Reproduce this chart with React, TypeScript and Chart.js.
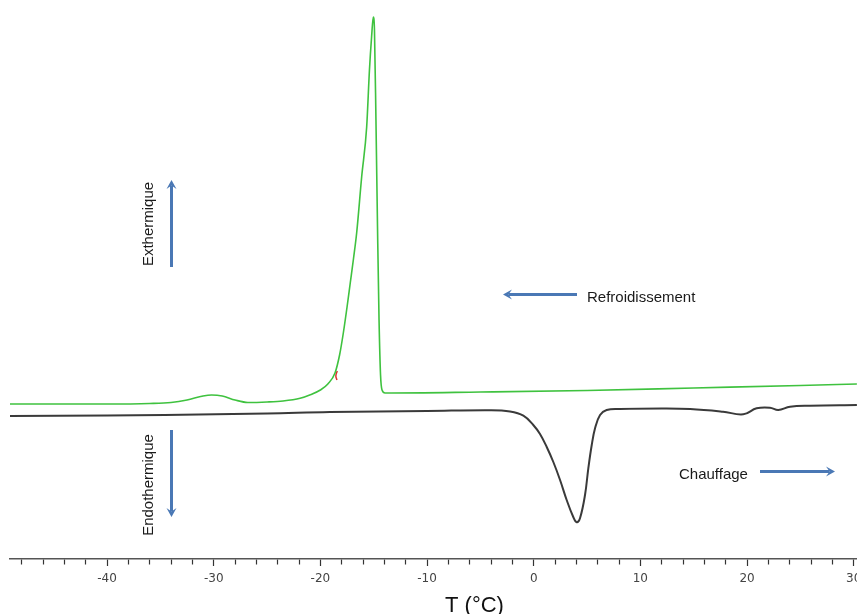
import React, { useEffect, useRef } from 'react';
import { Chart, registerables } from 'chart.js';

Chart.register(...registerables);

// ---- Data (T in °C, signal in arbitrary units, exo up) ----
const coolingT = [-49.1, -40, -36, -34, -32.5, -31, -30.2, -29.2, -28, -26.8, -25, -23.5, -21.9, -21, -20, -19.3, -18.63, -18.2, -17.85, -17.5, -17.2, -16.9, -16.6, -16.13, -15.66, -15.4, -15.2, -15.04, -14.93, -14.79, -14.64, -14.5, -14.36, -14.22, -13.94, -5, 5, 15, 25, 30.3];
const coolingY = [155, 155, 155.5, 156.5, 159, 163, 164, 163, 159, 156.5, 157, 158, 160.7, 164, 169, 175, 186, 204, 226, 252, 276, 300, 326, 382, 432, 489, 522, 542, 529, 439, 329, 239, 184, 169, 166, 167, 168.5, 171, 173.5, 175];

const heatingT = [-49.1, -40, -34.6, -25, -19.1, -10, -4.09, -2.22, -0.97, -0.04, 0.59, 1.22, 1.84, 2.47, 3.09, 3.71, 4.03, 4.34, 4.81, 5.12, 5.44, 5.75, 6.22, 6.84, 8.09, 12, 14.67, 17.75, 19.65, 20.9, 22.15, 22.93, 24.03, 25.9, 30.3];
const heatingY = [143, 143.5, 144, 145.5, 147, 148, 148.8, 147.5, 143.3, 134, 125, 112, 97, 79, 59, 42, 36.7, 40.7, 64, 90.7, 114, 130.7, 144, 149, 150, 150.5, 150, 147.3, 144.7, 150.7, 151.3, 149, 152.3, 153.3, 154];

const markT = [-18.42, -18.55, -18.45];
const markY = [188, 183, 179];

const xMin = -49.1;
const xMax = 30.31;
const yMin = 0;
const yMax = 559;
const minorStep = 2;
const majorStep = 10;

const xTitle = 'T (°C)';
const exoLabel = 'Exthermique';
const endoLabel = 'Endothermique';
const coolLabel = 'Refroidissement';
const heatLabel = 'Chauffage';

const GREEN = '#3fc23f';
const DARK = '#3a3a3a';
const ARROW = '#4a78b5';

function pts(xs: number[], ys: number[]) {
  return xs.map((x, i) => ({ x, y: ys[i] }));
}

function drawArrow(ctx: CanvasRenderingContext2D, x1: number, y1: number, x2: number, y2: number) {
  const ang = Math.atan2(y2 - y1, x2 - x1);
  const c = Math.cos(ang);
  const s = Math.sin(ang);
  const head = 9;
  const hw = 5;
  ctx.strokeStyle = ARROW;
  ctx.lineWidth = 3;
  ctx.beginPath();
  ctx.moveTo(x1, y1);
  ctx.lineTo(x2 - c * head * 0.6, y2 - s * head * 0.6);
  ctx.stroke();
  const bx = x2 - c * head;
  const by = y2 - s * head;
  ctx.fillStyle = ARROW;
  ctx.beginPath();
  ctx.moveTo(x2, y2);
  ctx.lineTo(bx - s * hw, by + c * hw);
  ctx.lineTo(x2 - c * head * 0.6, y2 - s * head * 0.6);
  ctx.lineTo(bx + s * hw, by - c * hw);
  ctx.closePath();
  ctx.fill();
}

const annotationPlugin = {
  id: 'dscAnnotations',
  afterDraw(chart: any) {
    const ctx: CanvasRenderingContext2D = chart.ctx;
    ctx.save();
    drawArrow(ctx, 171.5, 267, 171.5, 180);
    drawArrow(ctx, 171.5, 430, 171.5, 517);
    drawArrow(ctx, 577, 294.5, 503, 294.5);
    drawArrow(ctx, 760, 471.5, 835, 471.5);

    ctx.fillStyle = '#1a1a1a';
    ctx.font = '15px "Liberation Sans", Arial, sans-serif';
    ctx.textBaseline = 'alphabetic';
    ctx.textAlign = 'left';
    ctx.fillText(coolLabel, 587, 301.5);
    ctx.fillText(heatLabel, 679, 479);

    ctx.textAlign = 'center';
    ctx.save();
    ctx.translate(152.5, 224);
    ctx.rotate(-Math.PI / 2);
    ctx.fillText(exoLabel, 0, 0);
    ctx.restore();
    ctx.save();
    ctx.translate(152.5, 485);
    ctx.rotate(-Math.PI / 2);
    ctx.fillText(endoLabel, 0, 0);
    ctx.restore();

    ctx.textAlign = 'left';
    ctx.font = '22px "Liberation Sans", Arial, sans-serif';
    ctx.fillStyle = '#111';
    ctx.fillText(xTitle, 445, 611.5);
    ctx.restore();
  },
};

export default function App() {
  const ref = useRef<HTMLCanvasElement>(null);

  useEffect(() => {
    if (!ref.current) return;
    const chart = new Chart(ref.current, {
      type: 'line',
      data: {
        datasets: [
          {
            label: 'Chauffage',
            data: pts(heatingT, heatingY),
            borderColor: DARK,
            borderWidth: 2,
            pointRadius: 0,
            tension: 0.4,
            fill: false,
          },
          {
            label: 'Refroidissement',
            data: pts(coolingT, coolingY),
            borderColor: GREEN,
            borderWidth: 1.6,
            pointRadius: 0,
            cubicInterpolationMode: 'monotone',
            fill: false,
          },
          {
            label: 'mark',
            data: pts(markT, markY),
            borderColor: '#e03030',
            borderWidth: 1.5,
            pointRadius: 0,
            tension: 0.4,
            fill: false,
          },
        ],
      },
      options: {
        responsive: false,
        animation: false,
        layout: { padding: { left: 10, right: 0, top: 0, bottom: 0 } },
        plugins: {
          legend: { display: false },
          tooltip: { enabled: false },
          title: { display: false },
        },
        scales: {
          x: {
            type: 'linear',
            min: xMin,
            max: xMax,
            afterFit(scale: any) {
              scale.height = 55;
              scale.paddingLeft = 0;
              scale.paddingRight = 0;
            },
            border: { display: true, color: '#555', width: 1.5 },
            grid: {
              display: true,
              drawOnChartArea: false,
              drawTicks: true,
              tickLength: 7,
              tickColor: '#333',
              tickWidth: 1.2,
              tickBorderDash: (ctx: any) =>
                ctx.tick && Math.abs(ctx.tick.value % majorStep) < 1e-6 ? [] : [5, 30],
            } as any,
            ticks: {
              stepSize: minorStep,
              includeBounds: false,
              autoSkip: false,
              maxRotation: 0,
              minRotation: 0,
              padding: 6,
              color: '#444',
              font: { family: '"DejaVu Sans", Verdana, sans-serif', size: 12 },
              callback: (v: any) => {
                const n = Number(v);
                return Math.abs(n % majorStep) < 1e-6 ? String(Math.round(n)) : '';
              },
            },
          },
          y: {
            type: 'linear',
            display: false,
            min: yMin,
            max: yMax,
          },
        },
      },
      plugins: [annotationPlugin],
    });
    return () => chart.destroy();
  }, []);

  return (
    <div style={{ position: 'fixed', left: 0, top: 0, width: 857, height: 614, background: '#fff' }}>
      <canvas ref={ref} width={857} height={614} />
    </div>
  );
}
